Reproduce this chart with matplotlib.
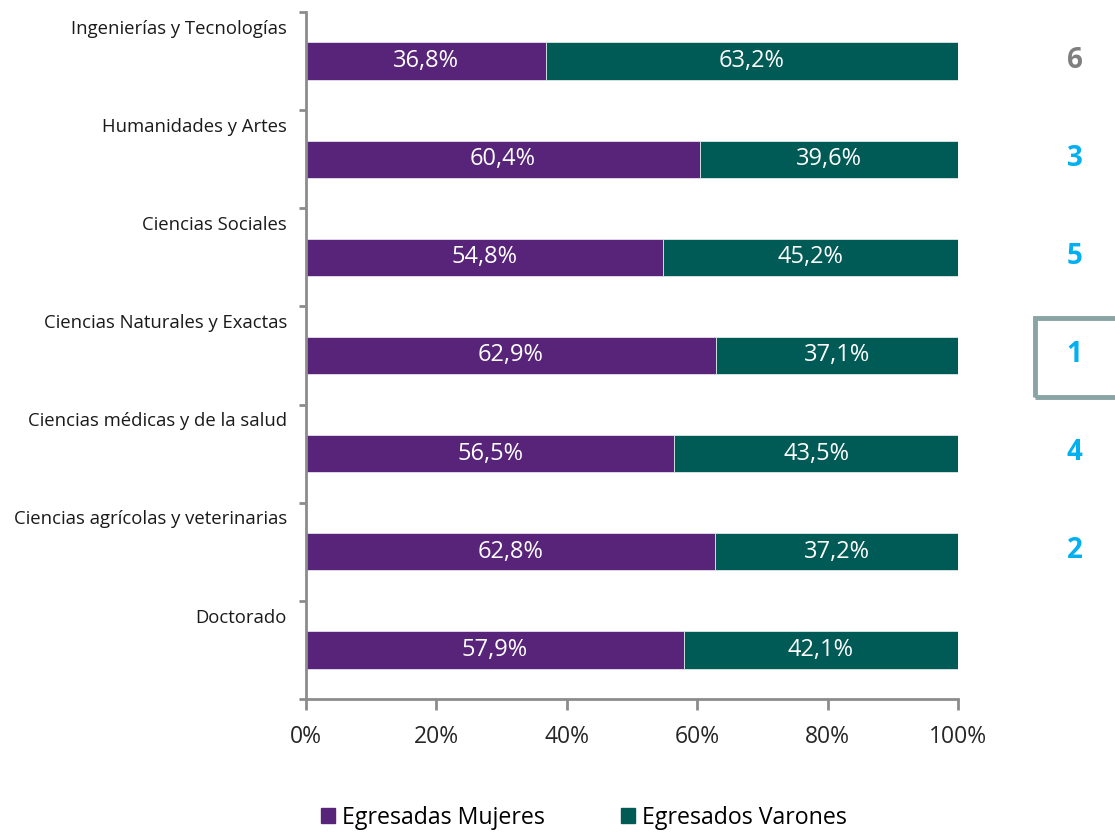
import matplotlib
matplotlib.use("Agg")
import matplotlib.pyplot as plt
from matplotlib.patches import Rectangle
import matplotlib.transforms as mtransforms

categories = ["Ingenierías y Tecnologías", "Humanidades y Artes", "Ciencias Sociales",
              "Ciencias Naturales y Exactas", "Ciencias médicas y de la salud",
              "Ciencias agrícolas y veterinarias", "Doctorado"]
mujeres = [36.8, 60.4, 54.8, 62.9, 56.5, 62.8, 57.9]
varones = [63.2, 39.6, 45.2, 37.1, 43.5, 37.2, 42.1]
ranking = ["6", "3", "5", "1", "4", "2", ""]
rank_colors = ["#7F7F7F", "#00B0F0", "#00B0F0", "#00B0F0", "#00B0F0", "#00B0F0", "#00B0F0"]
boxed_rank = "1"
xticks = [0, 20, 40, 60, 80, 100]
series_names = ["Egresadas Mujeres", "Egresados Varones"]

purple = "#57247A"
teal = "#005A55"
axis_col = "#8C8C8C"

plt.rcParams['font.family'] = ['Open Sans', 'DejaVu Sans']

fig = plt.figure(figsize=(11.15, 8.32), dpi=100)
ax = fig.add_axes([306/1115, 1-699/832, (958-306)/1115, (699-12)/832])

n = len(categories)
ys = [n - 1 - i for i in range(n)]
h = 0.38
ax.barh(ys, mujeres, height=h, color=purple, edgecolor="#E6E0EE", linewidth=0.6)
ax.barh(ys, varones, left=mujeres, height=h, color=teal, edgecolor="#DDE8E7", linewidth=0.6)

def fmt(v):
    return f"{v:.1f}%".replace(".", ",")

for y, m, v in zip(ys, mujeres, varones):
    ax.text(m/2, y, fmt(m), ha="center", va="center", color="white", fontsize=17)
    ax.text(m + v/2, y, fmt(v), ha="center", va="center", color="white", fontsize=17)

ax.set_xlim(0, 100)
ax.set_ylim(-0.5, n - 0.5)
ax.set_xticks(xticks)
ax.set_xticklabels([f"{t}%" for t in xticks], fontsize=16.5, color="#262626")
ax.set_yticks([i - 0.5 for i in range(n + 1)])
ax.set_yticklabels([])
ax.tick_params(axis="x", length=8, width=2, color=axis_col, pad=11)
ax.tick_params(axis="y", length=5, width=2, color=axis_col)
for s in ["top", "right"]:
    ax.spines[s].set_visible(False)
for s in ["left", "bottom"]:
    ax.spines[s].set_color(axis_col)
    ax.spines[s].set_linewidth(2)

trans = mtransforms.blended_transform_factory(ax.transAxes, ax.transData)
for y, c in zip(ys, categories):
    ax.text(-0.029, y + 0.33, c, transform=trans, ha="right", va="center",
            fontsize=13.3, color="#1A1A1A")

for y, r, col in zip(ys, ranking, rank_colors):
    if r:
        ax.text(1.179, y + 0.01, r, transform=trans, ha="center", va="center",
                fontsize=20, fontweight="bold", color=col, clip_on=False)
        if r == boxed_rank:
            rect = Rectangle((1.118, y - 0.42), 0.2, 0.80, transform=trans,
                             fill=False, edgecolor="#8AA3A5", linewidth=3.5,
                             clip_on=False)
            ax.add_patch(rect)

handles = [Rectangle((0, 0), 1, 1, color=purple), Rectangle((0, 0), 1, 1, color=teal)]
fig.legend(handles, series_names, loc="center", bbox_to_anchor=(584/1115, 1-818/832),
           ncol=2, frameon=False, fontsize=16.7, handlelength=0.6, handleheight=0.6,
           handletextpad=0.3, columnspacing=3.3)

fig.savefig("out.png", dpi=100)
